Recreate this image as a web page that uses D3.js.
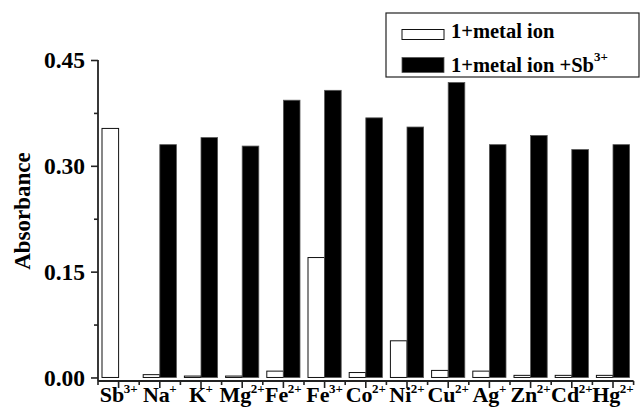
<!DOCTYPE html>
<html>
<head>
<meta charset="utf-8">
<script src="https://cdn.jsdelivr.net/npm/d3@7"></script>
<style>
  body { margin: 0; background: #fff; }
  svg { display: block; font-family: "Liberation Serif", "Times New Roman", serif; font-weight: bold; }
</style>
</head>
<body>
<script>
// ions on the x axis (element + charge)
var ions    = ["Sb", "Na", "K", "Mg", "Fe", "Fe", "Co", "Ni", "Cu", "Ag", "Zn", "Cd", "Hg"];
var charges = ["3+", "+", "+", "2+", "2+", "3+", "2+", "2+", "2+", "+", "2+", "2+", "2+"];
// absorbance
var ionOnly  = [0.353, 0.004, 0.002, 0.002, 0.009, 0.170, 0.007, 0.052, 0.010, 0.009, 0.003, 0.003, 0.003];
var ionPlusSb = [0, 0.330, 0.340, 0.328, 0.393, 0.407, 0.368, 0.355, 0.418, 0.330, 0.343, 0.323, 0.330];
var yTicks = [0, 0.15, 0.30, 0.45];
var yMinor = [0.075, 0.225, 0.375];

var width = 641, height = 416;
var svg = d3.select("body").append("svg")
    .attr("width", width)
    .attr("height", height);

var keys = ions.map(function(d, i){ return i; });

var x = d3.scaleBand()
    .domain(keys)
    .range([98, 633.6])
    .paddingInner(0).paddingOuter(0);

var y = d3.scaleLinear()
    .domain([-0.005, 0.45])
    .range([381, 60]);

var barW = 16.6;

// bars - open (1 + metal ion)
svg.selectAll(".open")
    .data(ionOnly)
    .enter().append("rect")
    .attr("class", "open")
    .attr("x", function(d, i){ return x(i) + x.bandwidth() / 2 - barW; })
    .attr("y", function(d){ return y(d); })
    .attr("width", barW)
    .attr("height", function(d){ return y(0) - y(d); })
    .attr("fill", "#fff")
    .attr("stroke", "#111")
    .attr("stroke-width", 1);

// bars - filled (1 + metal ion + Sb3+)
svg.selectAll(".filled")
    .data(ionPlusSb)
    .enter().append("rect")
    .attr("class", "filled")
    .attr("x", function(d, i){ return x(i) + x.bandwidth() / 2; })
    .attr("y", function(d){ return y(d); })
    .attr("width", barW)
    .attr("height", function(d){ return y(0) - y(d); })
    .attr("fill", "#000")
    .attr("stroke", "#555")
    .attr("stroke-width", 0.8);

// y axis
var yAxis = svg.append("g")
    .attr("transform", "translate(98,0)")
    .call(d3.axisLeft(y).tickValues(yTicks).tickSize(7).tickPadding(6)
        .tickFormat(d3.format(".2f")));
yAxis.select(".domain").remove();
yAxis.selectAll("line").attr("stroke", "#222").attr("stroke-width", 1.6);
yAxis.selectAll("text")
    .attr("font-size", 23.5)
    .attr("font-family", "Liberation Serif")
    .attr("font-weight", "bold")
    .attr("fill", "#000");

svg.append("g")
    .attr("transform", "translate(98,0)")
    .call(d3.axisLeft(y).tickValues(yMinor).tickSize(4).tickFormat(""))
    .call(function(g){
        g.select(".domain").remove();
        g.selectAll("line").attr("stroke", "#222").attr("stroke-width", 1.6);
    });

svg.append("line")
    .attr("x1", 98).attr("x2", 98)
    .attr("y1", y(0.45)).attr("y2", y(-0.005))
    .attr("stroke", "#222").attr("stroke-width", 1.8);

// x axis line with long ticks at centres and short at edges
svg.append("line")
    .attr("x1", 98).attr("x2", x.range()[1])
    .attr("y1", y(-0.005)).attr("y2", y(-0.005))
    .attr("stroke", "#222").attr("stroke-width", 1.8);

var xg = svg.append("g");
xg.selectAll(".major")
    .data(keys)
    .enter().append("line")
    .attr("x1", function(d){ return x(d) + x.bandwidth() / 2; })
    .attr("x2", function(d){ return x(d) + x.bandwidth() / 2; })
    .attr("y1", y(-0.005)).attr("y2", y(-0.005) + 7)
    .attr("stroke", "#222").attr("stroke-width", 1.6);
xg.selectAll(".minor")
    .data(keys.concat([keys.length]))
    .enter().append("line")
    .attr("x1", function(d){ return x.range()[0] + d * x.step(); })
    .attr("x2", function(d){ return x.range()[0] + d * x.step(); })
    .attr("y1", y(-0.005)).attr("y2", y(-0.005) + 4)
    .attr("stroke", "#222").attr("stroke-width", 1.6);

// ion labels
var lab = xg.selectAll(".ion")
    .data(keys)
    .enter().append("text")
    .attr("x", function(d){ return x(d) + x.bandwidth() / 2; })
    .attr("y", 402)
    .attr("text-anchor", "middle")
    .attr("font-size", 22)
    .attr("fill", "#000");
lab.append("tspan").text(function(d){ return ions[d]; });
lab.append("tspan")
    .attr("dy", -9)
    .attr("dx", -0.5)
    .attr("font-size", 13)
    .text(function(d){ return charges[d]; });

// y label
svg.append("text")
    .attr("transform", "translate(30,211) rotate(-90)")
    .attr("text-anchor", "middle")
    .attr("font-size", 23)
    .attr("fill", "#000")
    .text("Absorbance");

// legend
var leg = svg.append("g");
leg.append("rect")
    .attr("x", 386).attr("y", 13)
    .attr("width", 253).attr("height", 64)
    .attr("fill", "#fff")
    .attr("stroke", "#222").attr("stroke-width", 1.2);
leg.append("rect")
    .attr("x", 402).attr("y", 29.5)
    .attr("width", 42).attr("height", 10)
    .attr("fill", "#fff").attr("stroke", "#111").attr("stroke-width", 1);
leg.append("rect")
    .attr("x", 402).attr("y", 57.5)
    .attr("width", 42).attr("height", 15)
    .attr("fill", "#000").attr("stroke", "#555").attr("stroke-width", 0.8);
leg.append("text")
    .attr("x", 451).attr("y", 38)
    .attr("font-size", 20.5)
    .attr("fill", "#000")
    .text("1+metal ion");
var t2 = leg.append("text")
    .attr("x", 451).attr("y", 72)
    .attr("font-size", 20.5)
    .attr("fill", "#000");
t2.append("tspan").text("1+metal ion +Sb");
t2.append("tspan").attr("dy", -11).attr("font-size", 13).text("3+");
</script>
</body>
</html>
